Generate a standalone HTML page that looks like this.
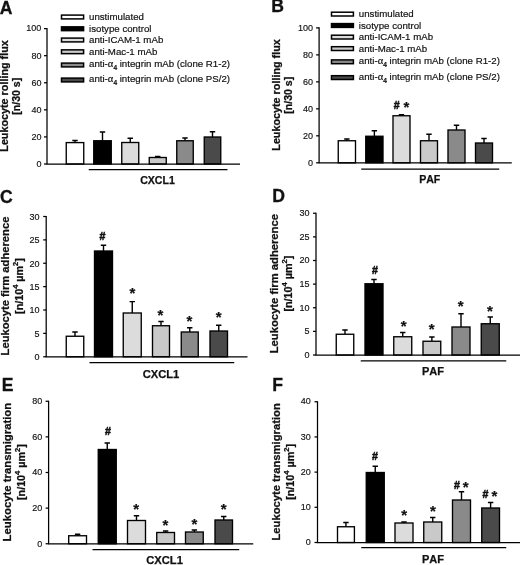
<!DOCTYPE html>
<html lang="en"><head><meta charset="utf-8"><title>Figure</title>
<style>
html,body{margin:0;padding:0;background:#fff}
body{width:520px;height:565px;overflow:hidden}
svg{display:block;filter:blur(0.3px)}
text{font-family:"Liberation Sans",Arial,Helvetica,sans-serif;fill:#111}
.a{stroke:#000;stroke-width:1.25;fill:none}
.e{stroke:#000;stroke-width:1.4;fill:none}
.b{stroke:#000;stroke-width:1.35}
.t{font-size:9px;text-anchor:end;stroke:#111;stroke-width:.15px}
.l{font-size:9.7px;stroke:#111;stroke-width:.18px}
.sub{font-size:6.5px;font-weight:bold}
.al{font-family:"Liberation Serif",serif;font-size:10.5px}
.sup{font-size:7px}
.g{font-weight:bold;text-anchor:middle;stroke:#111;stroke-width:.25px;font-kerning:none}
.L{font-size:17.6px;font-weight:bold;stroke:#111;stroke-width:.3px}
.y{font-size:10px;font-weight:bold;text-anchor:middle;stroke:#111;stroke-width:.25px}
.s{font-size:15px;font-weight:bold;text-anchor:middle;stroke:#111;stroke-width:.2px}
.h{font-size:10.6px;font-weight:bold;text-anchor:middle;stroke:#111;stroke-width:.5px}
</style></head><body>
<svg width="520" height="565" viewBox="0 0 520 565">
<rect width="520" height="565" fill="#fff"/>
<path d="M75.00 142.60V140.50M72.30 140.50H77.70" class="e"/>
<rect x="66.25" y="142.60" width="17.50" height="21.40" fill="#ffffff" class="b"/>
<path d="M102.50 140.75V132.00M99.80 132.00H105.20" class="e"/>
<rect x="93.75" y="140.75" width="17.50" height="23.25" fill="#000000" class="b"/>
<path d="M130.25 142.50V138.25M127.55 138.25H132.95" class="e"/>
<rect x="121.75" y="142.50" width="17.00" height="21.50" fill="#dcdcdc" class="b"/>
<path d="M157.75 157.50V156.50M155.05 156.50H160.45" class="e"/>
<rect x="149.25" y="157.50" width="17.00" height="6.50" fill="#c9c9c9" class="b"/>
<path d="M185.00 140.75V138.00M182.30 138.00H187.70" class="e"/>
<rect x="176.75" y="140.75" width="16.50" height="23.25" fill="#8a8a8a" class="b"/>
<path d="M212.50 137.00V131.75M209.80 131.75H215.20" class="e"/>
<rect x="204.25" y="137.00" width="16.50" height="27.00" fill="#4a4a4a" class="b"/>
<path d="M47.00 28.00V164.00H240.00" class="a"/>
<path d="M44.00 164.00H47.00" class="a"/>
<text x="41.40" y="167" class="t">0</text>
<path d="M44.00 136.92H47.00" class="a"/>
<text x="41.40" y="140" class="t">20</text>
<path d="M44.00 109.84H47.00" class="a"/>
<text x="41.40" y="113" class="t">40</text>
<path d="M44.00 82.76H47.00" class="a"/>
<text x="41.40" y="86" class="t">60</text>
<path d="M44.00 55.68H47.00" class="a"/>
<text x="41.40" y="59" class="t">80</text>
<path d="M44.00 28.60H47.00" class="a"/>
<text x="41.40" y="31" class="t">100</text>
<path d="M88.75 169.50H227.50" class="a"/>
<text x="157.50" y="184.00" class="g" font-size="10.6">CXCL1</text>
<text x="-0.20" y="14.00" class="L">A</text>
<text transform="translate(8.30 96.00) rotate(-90) scale(1.08 1)" class="y">Leukocyte rolling flux</text>
<text transform="translate(20.30 96.30) rotate(-90) scale(1.056 1)" class="y">[n/30 s]</text>
<path d="M346.88 140.75V139.00M344.18 139.00H349.57" class="e"/>
<rect x="338.25" y="140.75" width="17.25" height="22.05" fill="#ffffff" class="b"/>
<path d="M374.38 136.25V130.75M371.68 130.75H377.07" class="e"/>
<rect x="365.75" y="136.25" width="17.25" height="26.55" fill="#000000" class="b"/>
<path d="M401.50 115.75V114.75M398.80 114.75H404.20" class="e"/>
<rect x="393.00" y="115.75" width="17.00" height="47.05" fill="#dcdcdc" class="b"/>
<path d="M429.00 140.75V134.25M426.30 134.25H431.70" class="e"/>
<rect x="420.50" y="140.75" width="17.00" height="22.05" fill="#c9c9c9" class="b"/>
<path d="M456.50 130.00V125.25M453.80 125.25H459.20" class="e"/>
<rect x="448.00" y="130.00" width="17.00" height="32.80" fill="#8a8a8a" class="b"/>
<path d="M484.00 143.00V138.50M481.30 138.50H486.70" class="e"/>
<rect x="475.50" y="143.00" width="17.00" height="19.80" fill="#4a4a4a" class="b"/>
<path d="M319.10 27.30V162.80H511.75" class="a"/>
<path d="M316.10 162.80H319.10" class="a"/>
<text x="313.10" y="166" class="t">0</text>
<path d="M316.10 135.82H319.10" class="a"/>
<text x="313.10" y="139" class="t">20</text>
<path d="M316.10 108.84H319.10" class="a"/>
<text x="313.10" y="112" class="t">40</text>
<path d="M316.10 81.86H319.10" class="a"/>
<text x="313.10" y="85" class="t">60</text>
<path d="M316.10 54.88H319.10" class="a"/>
<text x="313.10" y="58" class="t">80</text>
<path d="M316.10 27.90H319.10" class="a"/>
<text x="313.10" y="31" class="t">100</text>
<path d="M361.25 169.00H499.25" class="a"/>
<text x="429.75" y="182.50" class="g" font-size="10.6">PAF</text>
<text x="271.20" y="12.00" class="L">B</text>
<text x="396.70" y="109" class="h">#</text>
<text x="406.40" y="112" class="s">*</text>
<text transform="translate(280.20 95.00) rotate(-90) scale(1.08 1)" class="y">Leukocyte rolling flux</text>
<text transform="translate(292.20 95.30) rotate(-90) scale(1.056 1)" class="y">[n/30 s]</text>
<path d="M75.00 336.25V332.00M72.30 332.00H77.70" class="e"/>
<rect x="66.25" y="336.25" width="17.50" height="20.50" fill="#ffffff" class="b"/>
<path d="M103.50 251.00V245.25M100.80 245.25H106.20" class="e"/>
<rect x="94.50" y="251.00" width="18.00" height="105.75" fill="#000000" class="b"/>
<path d="M132.25 313.00V301.60M129.55 301.60H134.95" class="e"/>
<rect x="123.25" y="313.00" width="18.00" height="43.75" fill="#dcdcdc" class="b"/>
<path d="M161.00 325.75V321.50M158.30 321.50H163.70" class="e"/>
<rect x="152.50" y="325.75" width="17.00" height="31.00" fill="#c9c9c9" class="b"/>
<path d="M189.75 332.00V327.75M187.05 327.75H192.45" class="e"/>
<rect x="181.25" y="332.00" width="17.00" height="24.75" fill="#8a8a8a" class="b"/>
<path d="M218.75 331.00V325.25M216.05 325.25H221.45" class="e"/>
<rect x="210.00" y="331.00" width="17.50" height="25.75" fill="#4a4a4a" class="b"/>
<path d="M46.20 215.90V356.75H247.50" class="a"/>
<path d="M43.20 356.75H46.20" class="a"/>
<text x="39.40" y="360" class="t">0</text>
<path d="M43.20 333.38H46.20" class="a"/>
<text x="39.40" y="337" class="t">5</text>
<path d="M43.20 310.00H46.20" class="a"/>
<text x="39.40" y="313" class="t">10</text>
<path d="M43.20 286.62H46.20" class="a"/>
<text x="39.40" y="290" class="t">15</text>
<path d="M43.20 263.25H46.20" class="a"/>
<text x="39.40" y="267" class="t">20</text>
<path d="M43.20 239.88H46.20" class="a"/>
<text x="39.40" y="243" class="t">25</text>
<path d="M43.20 216.50H46.20" class="a"/>
<text x="39.40" y="220" class="t">30</text>
<path d="M89.50 362.50H234.25" class="a"/>
<text x="161.00" y="378.00" class="g" font-size="11.2">CXCL1</text>
<text x="-0.10" y="203.00" class="L">C</text>
<text x="102.50" y="240" class="h">#</text>
<text x="132.50" y="298" class="s">*</text>
<text x="160.50" y="320" class="s">*</text>
<text x="189.50" y="326" class="s">*</text>
<text x="218.75" y="322" class="s">*</text>
<text transform="translate(9.10 286.00) rotate(-90) scale(1.121 1)" class="y">Leukocyte firm adherence</text>
<text transform="translate(22.50 286.00) rotate(-90) scale(1.075 1)" class="y">[n/10<tspan class="sup" dy="-4.8">4</tspan><tspan dy="4.8"> µm</tspan><tspan class="sup" dy="-4.8">2</tspan><tspan dy="4.8">]</tspan></text>
<path d="M345.00 334.25V330.00M342.30 330.00H347.70" class="e"/>
<rect x="336.25" y="334.25" width="17.50" height="20.75" fill="#ffffff" class="b"/>
<path d="M374.00 283.75V279.50M371.30 279.50H376.70" class="e"/>
<rect x="365.00" y="283.75" width="18.00" height="71.25" fill="#000000" class="b"/>
<path d="M402.75 336.75V332.50M400.05 332.50H405.45" class="e"/>
<rect x="393.75" y="336.75" width="18.00" height="18.25" fill="#dcdcdc" class="b"/>
<path d="M431.88 341.25V337.00M429.18 337.00H434.57" class="e"/>
<rect x="423.00" y="341.25" width="17.75" height="13.75" fill="#c9c9c9" class="b"/>
<path d="M461.00 327.00V313.75M458.30 313.75H463.70" class="e"/>
<rect x="452.00" y="327.00" width="18.00" height="28.00" fill="#8a8a8a" class="b"/>
<path d="M490.25 323.75V317.00M487.55 317.00H492.95" class="e"/>
<rect x="481.25" y="323.75" width="18.00" height="31.25" fill="#4a4a4a" class="b"/>
<path d="M316.00 212.65V355.00H520.00" class="a"/>
<path d="M313.00 355.00H316.00" class="a"/>
<text x="309.60" y="358" class="t">0</text>
<path d="M313.00 331.38H316.00" class="a"/>
<text x="309.60" y="334" class="t">5</text>
<path d="M313.00 307.75H316.00" class="a"/>
<text x="309.60" y="311" class="t">10</text>
<path d="M313.00 284.12H316.00" class="a"/>
<text x="309.60" y="287" class="t">15</text>
<path d="M313.00 260.50H316.00" class="a"/>
<text x="309.60" y="263" class="t">20</text>
<path d="M313.00 236.88H316.00" class="a"/>
<text x="309.60" y="240" class="t">25</text>
<path d="M313.00 213.25H316.00" class="a"/>
<text x="309.60" y="216" class="t">30</text>
<path d="M360.75 360.75H506.25" class="a"/>
<text x="433.00" y="375.00" class="g" font-size="11">PAF</text>
<text x="272.30" y="202.00" class="L">D</text>
<text x="375.00" y="274" class="h">#</text>
<text x="403.75" y="331" class="s">*</text>
<text x="431.75" y="334" class="s">*</text>
<text x="460.75" y="311" class="s">*</text>
<text x="490.00" y="316" class="s">*</text>
<text transform="translate(278.20 283.65) rotate(-90) scale(1.126 1)" class="y">Leukocyte firm adherence</text>
<text transform="translate(291.60 283.65) rotate(-90) scale(1.075 1)" class="y">[n/10<tspan class="sup" dy="-4.8">4</tspan><tspan dy="4.8"> µm</tspan><tspan class="sup" dy="-4.8">2</tspan><tspan dy="4.8">]</tspan></text>
<path d="M77.60 535.75V534.20M74.90 534.20H80.30" class="e"/>
<rect x="68.70" y="535.75" width="17.80" height="8.00" fill="#ffffff" class="b"/>
<path d="M107.25 449.50V443.00M104.55 443.00H109.95" class="e"/>
<rect x="98.25" y="449.50" width="18.00" height="94.25" fill="#000000" class="b"/>
<path d="M136.50 520.50V515.75M133.80 515.75H139.20" class="e"/>
<rect x="127.50" y="520.50" width="18.00" height="23.25" fill="#dcdcdc" class="b"/>
<path d="M165.62 532.50V531.00M162.93 531.00H168.32" class="e"/>
<rect x="156.75" y="532.50" width="17.75" height="11.25" fill="#c9c9c9" class="b"/>
<path d="M194.38 532.00V530.00M191.68 530.00H197.07" class="e"/>
<rect x="185.50" y="532.00" width="17.75" height="11.75" fill="#8a8a8a" class="b"/>
<path d="M223.75 520.00V516.50M221.05 516.50H226.45" class="e"/>
<rect x="215.00" y="520.00" width="17.50" height="23.75" fill="#4a4a4a" class="b"/>
<path d="M48.60 400.65V543.75H253.25" class="a"/>
<path d="M45.60 543.75H48.60" class="a"/>
<text x="42.20" y="547" class="t">0</text>
<path d="M45.60 508.12H48.60" class="a"/>
<text x="42.20" y="511" class="t">20</text>
<path d="M45.60 472.50H48.60" class="a"/>
<text x="42.20" y="475" class="t">40</text>
<path d="M45.60 436.88H48.60" class="a"/>
<text x="42.20" y="440" class="t">60</text>
<path d="M45.60 401.25H48.60" class="a"/>
<text x="42.20" y="404" class="t">80</text>
<path d="M92.50 549.50H239.25" class="a"/>
<text x="164.60" y="564.00" class="g" font-size="11.2">CXCL1</text>
<text x="1.65" y="391.00" class="L">E</text>
<text x="108.00" y="435" class="h">#</text>
<text x="136.25" y="514" class="s">*</text>
<text x="165.50" y="530" class="s">*</text>
<text x="194.50" y="529" class="s">*</text>
<text x="223.75" y="514" class="s">*</text>
<text transform="translate(11.30 472.10) rotate(-90) scale(1.135 1)" class="y">Leukocyte transmigration</text>
<text transform="translate(24.70 472.10) rotate(-90) scale(1.075 1)" class="y">[n/10<tspan class="sup" dy="-4.8">4</tspan><tspan dy="4.8"> µm</tspan><tspan class="sup" dy="-4.8">2</tspan><tspan dy="4.8">]</tspan></text>
<path d="M345.95 526.75V522.50M343.25 522.50H348.65" class="e"/>
<rect x="337.50" y="526.75" width="16.90" height="15.75" fill="#ffffff" class="b"/>
<path d="M375.25 472.50V466.25M372.55 466.25H377.95" class="e"/>
<rect x="366.25" y="472.50" width="18.00" height="70.00" fill="#000000" class="b"/>
<path d="M404.00 523.00V522.00M401.30 522.00H406.70" class="e"/>
<rect x="395.00" y="523.00" width="18.00" height="19.50" fill="#dcdcdc" class="b"/>
<path d="M432.75 522.00V517.50M430.05 517.50H435.45" class="e"/>
<rect x="423.75" y="522.00" width="18.00" height="20.50" fill="#c9c9c9" class="b"/>
<path d="M461.50 500.00V491.75M458.80 491.75H464.20" class="e"/>
<rect x="452.50" y="500.00" width="18.00" height="42.50" fill="#8a8a8a" class="b"/>
<path d="M490.62 508.00V502.50M487.93 502.50H493.32" class="e"/>
<rect x="481.75" y="508.00" width="17.75" height="34.50" fill="#4a4a4a" class="b"/>
<path d="M317.50 401.15V542.50H520.00" class="a"/>
<path d="M314.50 542.50H317.50" class="a"/>
<text x="310.70" y="545" class="t">0</text>
<path d="M314.50 507.31H317.50" class="a"/>
<text x="310.70" y="510" class="t">10</text>
<path d="M314.50 472.12H317.50" class="a"/>
<text x="310.70" y="475" class="t">20</text>
<path d="M314.50 436.94H317.50" class="a"/>
<text x="310.70" y="440" class="t">30</text>
<path d="M314.50 401.75H317.50" class="a"/>
<text x="310.70" y="404" class="t">40</text>
<path d="M361.25 547.50H506.25" class="a"/>
<text x="433.00" y="563.00" class="g" font-size="11">PAF</text>
<text x="272.30" y="391.00" class="L">F</text>
<text x="375.00" y="460" class="h">#</text>
<text x="404.25" y="520" class="s">*</text>
<text x="433.00" y="516" class="s">*</text>
<text x="457.00" y="489" class="h">#</text>
<text x="465.75" y="492" class="s">*</text>
<text x="485.50" y="498" class="h">#</text>
<text x="494.50" y="501" class="s">*</text>
<text transform="translate(280.10 471.90) rotate(-90) scale(1.125 1)" class="y">Leukocyte transmigration</text>
<text transform="translate(293.50 471.90) rotate(-90) scale(1.075 1)" class="y">[n/10<tspan class="sup" dy="-4.8">4</tspan><tspan dy="4.8"> µm</tspan><tspan class="sup" dy="-4.8">2</tspan><tspan dy="4.8">]</tspan></text>
<rect x="61.50" y="15.10" width="22.10" height="3.8" fill="#ffffff" class="b" style="stroke-width:1.5"/>
<text x="89.00" y="20" class="l">unstimulated</text>
<rect x="61.50" y="26.85" width="22.10" height="3.8" fill="#000000" class="b" style="stroke-width:1.5"/>
<text x="89.00" y="32" class="l">isotype control</text>
<rect x="61.50" y="38.10" width="22.10" height="3.8" fill="#dcdcdc" class="b" style="stroke-width:1.5"/>
<text x="89.00" y="43" class="l">anti-ICAM-1 mAb</text>
<rect x="61.50" y="49.85" width="22.10" height="3.8" fill="#c9c9c9" class="b" style="stroke-width:1.5"/>
<text x="89.00" y="55" class="l">anti-Mac-1 mAb</text>
<rect x="61.50" y="63.10" width="22.10" height="3.8" fill="#8a8a8a" class="b" style="stroke-width:1.5"/>
<text x="89.00" y="67" class="l">anti-<tspan class="al">α</tspan><tspan class="sub" dy="3.2">4</tspan><tspan dy="-3.2"> integrin mAb (clone R1-2)</tspan></text>
<rect x="61.50" y="78.10" width="22.10" height="3.8" fill="#4a4a4a" class="b" style="stroke-width:1.5"/>
<text x="89.00" y="82" class="l">anti-<tspan class="al">α</tspan><tspan class="sub" dy="3.2">4</tspan><tspan dy="-3.2"> integrin mAb (clone PS/2)</tspan></text>
<rect x="331.50" y="12.20" width="21.90" height="3.8" fill="#ffffff" class="b" style="stroke-width:1.5"/>
<text x="358.80" y="17" class="l">unstimulated</text>
<rect x="331.50" y="23.60" width="21.90" height="3.8" fill="#000000" class="b" style="stroke-width:1.5"/>
<text x="358.80" y="29" class="l">isotype control</text>
<rect x="331.50" y="35.20" width="21.90" height="3.8" fill="#dcdcdc" class="b" style="stroke-width:1.5"/>
<text x="358.80" y="40" class="l">anti-ICAM-1 mAb</text>
<rect x="331.50" y="46.70" width="21.90" height="3.8" fill="#c9c9c9" class="b" style="stroke-width:1.5"/>
<text x="358.80" y="52" class="l">anti-Mac-1 mAb</text>
<rect x="331.50" y="59.90" width="21.90" height="3.8" fill="#8a8a8a" class="b" style="stroke-width:1.5"/>
<text x="358.80" y="64" class="l">anti-<tspan class="al">α</tspan><tspan class="sub" dy="3.2">4</tspan><tspan dy="-3.2"> integrin mAb (clone R1-2)</tspan></text>
<rect x="331.50" y="75.70" width="21.90" height="3.8" fill="#4a4a4a" class="b" style="stroke-width:1.5"/>
<text x="358.80" y="80" class="l">anti-<tspan class="al">α</tspan><tspan class="sub" dy="3.2">4</tspan><tspan dy="-3.2"> integrin mAb (clone PS/2)</tspan></text>
</svg>
</body></html>
